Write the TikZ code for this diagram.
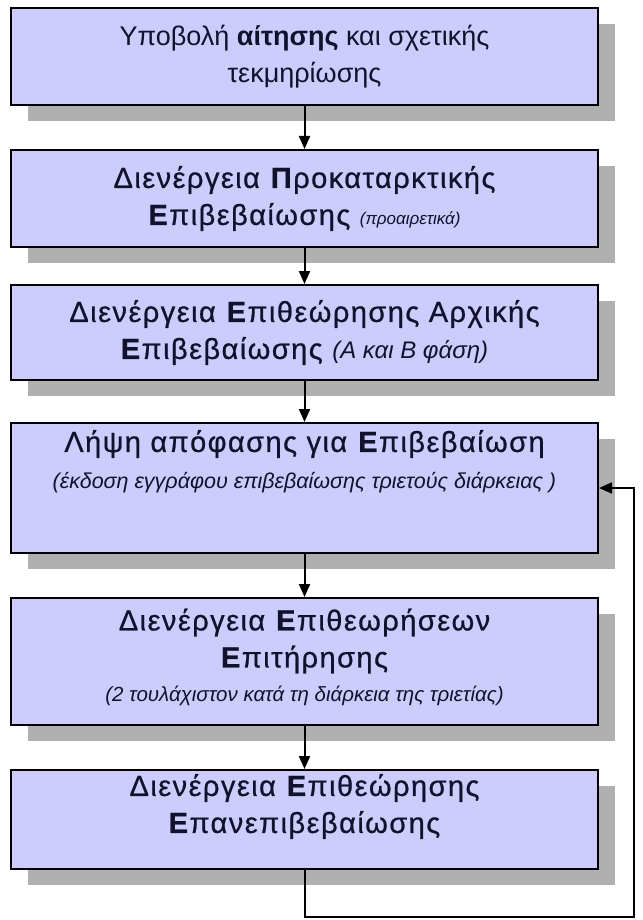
\documentclass[tikz,border=0pt]{standalone}
\usepackage{fontspec}
\setmainfont{Liberation Sans}
\newfontfamily\medfont[LetterSpace=5, FakeBold=0.7]{Liberation Sans}
\usepackage{xcolor}
\usepackage{tikz}
\usetikzlibrary{positioning, shadows, arrows.meta}
\definecolor{boxfill}{HTML}{CCCCFF}
\definecolor{shadowgray}{HTML}{B0B0B0}
\definecolor{inkblue}{HTML}{12122A}
\tikzstyle{stage} = [rectangle, minimum width=587pt, inner sep=0pt, align=center, text=inkblue, draw=black, line width=2pt, fill=boxfill, drop shadow={shadow xshift=17pt, shadow yshift=-16pt, fill=shadowgray, opacity=1}, font=\fontsize{29}{37}\selectfont\medfont]
\tikzstyle{arrow} = [line width=2pt, -{Triangle[width=11pt,length=13pt]}]
\newcommand{\subnote}[2]{{\rmfamily\fontsize{#1}{#1}\selectfont\itshape #2}}

\begin{document}
\begin{tikzpicture}[x=1pt, y=1pt, node distance=43pt]
    \useasboundingbox (0,0) rectangle (642,-920);

    \node (submit) [stage, minimum height=97pt, font=\fontsize{27}{37}\selectfont\rmfamily] at (304.5,-56.5) {Υποβολή \textbf{αίτησης} και σχετικής\\
                                                                   τεκμηρίωσης};
    \node (prelim) [stage, minimum height=97pt, below=of submit] {Διενέργεια \textbf{Π}ροκαταρκτικής\\
                                                                   \textbf{Ε}πιβεβαίωσης \subnote{17}{(προαιρετικά)}};
    \node (initial) [stage, minimum height=95pt, below=36pt of prelim] {Διενέργεια \textbf{Ε}πιθεώρησης Αρχικής\\
                                                                   \textbf{Ε}πιβεβαίωσης \subnote{24}{(Α και Β φάση)}};
    \node (decide) [stage, minimum height=130pt, below=41pt of initial] {Λήψη απόφασης για \textbf{Ε}πιβεβαίωση\\
                                                                   \subnote{21.5}{(έκδοση εγγράφου επιβεβαίωσης τριετούς διάρκειας )}\\[20pt]
                                                                   \mbox{}};
    \node (monitor) [stage, minimum height=127pt, below=of decide] {Διενέργεια \textbf{Ε}πιθεωρήσεων\\
                                                                   \textbf{Ε}πιτήρησης\\[-3pt]
                                                                   \subnote{20.5}{(2 τουλάχιστον κατά τη διάρκεια της τριετίας)}\\[-24pt]
                                                                   \mbox{}};
    \node (renew) [stage, minimum height=99pt, below=of monitor] {Διενέργεια \textbf{Ε}πιθεώρησης\\
                                                                   \textbf{Ε}πανεπιβεβαίωσης\\[-5pt]
                                                                   \mbox{}};
    \coordinate (loop) at (634,-917);

    \draw [arrow] (submit) -- (prelim);
    \draw [arrow] (prelim) -- (initial);
    \draw [arrow] (initial) -- (decide);
    \draw [arrow] (decide) -- (monitor);
    \draw [arrow] (monitor) -- (renew);
    \draw [arrow] (renew.south) |- (loop) |- (decide.east);
\end{tikzpicture}
\end{document}
